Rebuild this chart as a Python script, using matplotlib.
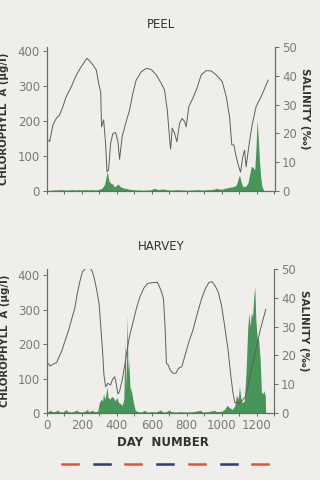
import matplotlib
matplotlib.use("Agg")
import matplotlib.pyplot as plt
from matplotlib.lines import Line2D

# Colours
BG = "#efeeea"
GREEN = "#479558"
LINE = "#5e5e5e"
AXIS = "#6a6a6a"
TICKTXT = "#7a7a7a"
LABEL = "#333333"

# ---- PEEL ----
peel_sal_day = [10, 15, 34, 53, 72, 91, 110, 139, 168, 196, 215, 229, 244, 263, 282, 297, 307,
                312, 324, 335, 343, 352, 364, 377, 392, 406, 415, 430, 450, 472, 491, 510, 539,
                568, 596, 625, 653, 672, 688, 701, 707, 716, 730, 743, 758, 773, 787, 796, 811,
                834, 857, 882, 910, 939, 968, 1002, 1025, 1044, 1057, 1069, 1082, 1097, 1107,
                1120, 1130, 1139, 1154, 1173, 1196, 1225, 1265]
peel_sal = [17.7, 17.1, 22.9, 25.2, 26.4, 29.3, 32.8, 36.2, 40.3, 43.2, 44.9, 46.1, 45.1, 43.8,
            42.0, 36.8, 34.5, 22.3, 24.7, 16.6, 6.7, 7.3, 16.6, 20.0, 20.3, 17.1, 11.0, 18.9,
            23.5, 28.1, 33.9, 38.5, 41.4, 42.6, 42.2, 40.3, 37.4, 35.1, 28.1, 18.3, 14.5, 21.8,
            20.0, 17.1, 23.5, 25.2, 24.1, 22.3, 29.3, 32.2, 35.6, 40.3, 41.8, 41.7, 40.3, 38.0,
            32.8, 25.8, 16.0, 16.0, 11.9, 8.4, 6.5, 11.9, 14.2, 8.4, 15.4, 22.9, 29.3, 32.8, 38.5]

peel_chl_day = [0, 20, 40, 60, 80, 100, 120, 140, 160, 180, 200, 220, 240, 260, 280, 300, 315,
                330, 340, 345, 350, 355, 365, 375, 385, 395, 405, 412, 420, 430, 440, 455, 470,
                490, 510, 530, 550, 570, 590, 605, 615, 625, 640, 660, 680, 700, 720, 740, 760,
                780, 800, 820, 840, 860, 880, 900, 920, 940, 960, 970, 980, 1000, 1020, 1040,
                1060, 1075, 1085, 1095, 1101, 1108, 1118, 1130, 1140, 1150, 1160, 1168, 1178,
                1188, 1195, 1202, 1208, 1215, 1222, 1230, 1238, 1245]
peel_chl = [2, 2, 3, 3, 4, 3, 3, 4, 3, 4, 3, 4, 3, 4, 3, 5, 8, 20, 45, 55, 40, 28, 22, 20, 12,
            15, 20, 17, 12, 10, 8, 7, 5, 4, 3, 3, 2, 3, 3, 6, 8, 5, 4, 6, 4, 3, 3, 4, 3, 3, 2,
            3, 3, 4, 3, 3, 4, 4, 6, 8, 6, 5, 8, 10, 12, 14, 20, 38, 46, 30, 14, 12, 16, 24, 50,
            70, 68, 60, 120, 205, 150, 90, 40, 12, 3, 0]

# ---- HARVEY ----
harv_sal_day = [7, 17, 36, 55, 70, 83, 102, 121, 140, 159, 174, 188, 203, 222, 245, 260, 273,
                288, 298, 311, 320, 326, 336, 349, 364, 374, 387, 396, 406, 415, 431, 444, 457,
                472, 491, 510, 529, 554, 576, 605, 633, 652, 667, 677, 684, 694, 705, 722, 738,
                753, 772, 791, 813, 836, 861, 886, 908, 927, 946, 965, 980, 999, 1018, 1037,
                1051, 1064, 1075, 1098, 1121, 1136, 1155, 1174, 1196, 1221, 1253]
harv_sal = [17.2, 16.3, 17.0, 17.5, 19.6, 21.3, 24.8, 28.2, 32.3, 36.3, 41.6, 45.6, 49.1, 50.2,
            50.6, 49.1, 46.2, 41.6, 38.0, 27.7, 19.6, 13.2, 9.1, 10.3, 9.7, 11.5, 12.6, 10.3,
            6.6, 7.4, 11.5, 16.1, 21.3, 26.5, 31.1, 35.8, 39.8, 43.3, 45.0, 45.3, 45.3, 42.7,
            39.8, 28.8, 17.2, 16.7, 14.9, 13.8, 13.8, 15.5, 16.1, 20.1, 24.8, 28.8, 34.6, 39.8,
            43.3, 45.3, 45.6, 43.9, 42.1, 37.5, 30.0, 21.9, 13.8, 7.4, 3.7, 3.4, 4.5, 5.7, 10.3,
            16.1, 21.9, 28.8, 36.0]

harv_chl_day = [0, 10, 20, 30, 50, 60, 70, 90, 110, 120, 140, 160, 170, 180, 200, 220, 230,
                240, 260, 270, 290, 300, 310, 318, 324, 330, 336, 343, 350, 360, 370, 380, 390,
                400, 410, 420, 430, 440, 447, 452, 459, 464, 468, 475, 485, 495, 505, 520, 540,
                560, 570, 600, 620, 640, 650, 660, 680, 700, 710, 740, 760, 800, 840, 880, 890,
                920, 960, 970, 1000, 1020, 1030, 1040, 1060, 1075, 1085, 1095, 1102, 1110, 1117,
                1130, 1140, 1150, 1157, 1163, 1170, 1177, 1183, 1190, 1196, 1203, 1212, 1221,
                1228, 1235, 1242, 1250, 1252]
harv_chl = [3, 5, 8, 4, 5, 9, 4, 3, 10, 4, 3, 6, 9, 4, 3, 6, 10, 4, 8, 4, 5, 30, 40, 35, 57,
            40, 50, 76, 45, 40, 48, 45, 35, 45, 30, 28, 22, 40, 212, 70, 284, 120, 154, 75, 60,
            30, 8, 4, 3, 8, 3, 4, 3, 6, 9, 4, 3, 9, 4, 3, 4, 3, 4, 8, 3, 4, 8, 4, 5, 12, 22, 18,
            10, 20, 52, 40, 76, 45, 30, 35, 120, 250, 290, 250, 290, 280, 330, 367, 270, 220,
            212, 154, 60, 55, 65, 50, 0]

dash_colors = ["#e8503a", "#2b3a78", "#e8503a", "#2b3a78", "#e8503a", "#2b3a78", "#e8503a"]

W, H = 320, 480
fig = plt.figure(figsize=(3.2, 4.8), dpi=100, facecolor=BG)
plt.rcParams['font.family'] = ['DejaVu Sans']


def panel(rect, xmax, ymax, chl_day, chl, sal_day, sal, title, title_y, xlabels):
    ax = fig.add_axes(rect)
    ax.set_facecolor("none")
    ax.fill_between(chl_day, chl, 0, color=GREEN, lw=0)
    ax.set_xlim(0, xmax)
    ax.set_ylim(0, ymax)
    ax.set_yticks([0, 100, 200, 300, 400])
    ax.set_xticks(range(0, 1301, 100))
    if xlabels:
        ax.set_xticklabels([str(d) if d % 200 == 0 else "" for d in range(0, 1301, 100)])
    else:
        ax.set_xticklabels([])
    ax2 = ax.twinx()
    ax2.plot(sal_day, sal, color=LINE, lw=0.7)
    ax2.set_ylim(0, 50)
    ax2.set_yticks([0, 10, 20, 30, 40, 50])
    for a in (ax, ax2):
        a.spines['top'].set_visible(False)
        for s in ('left', 'right', 'bottom'):
            a.spines[s].set_color(AXIS)
            a.spines[s].set_linewidth(0.8)
        a.tick_params(colors=AXIS, labelcolor=TICKTXT, labelsize=8.5, length=3, width=0.7, pad=2)
    ax.tick_params(axis='x', length=2)
    ax.set_ylabel("CHLOROPHYLL  A (µg/l)", fontsize=7.3, color=LABEL, fontweight='bold')
    ax.yaxis.set_label_coords(-0.165, 0.5)
    ax2.set_ylabel("SALINITY (‰)", fontsize=7.5, color=LABEL, fontweight='bold', rotation=270)
    ax2.yaxis.set_label_coords(1.155, 0.57)
    fig.text(0.503, title_y, title, ha='center', va='center', fontsize=8.5, color=LABEL)
    return ax


panel([47 / W, 1 - 191 / H, 228 / W, 144 / H], 1304, 412,
      peel_chl_day, peel_chl, peel_sal_day, peel_sal, "PEEL", 1 - 24 / H, False)
panel([47 / W, 1 - 413 / H, 227 / W, 144 / H], 1290, 418,
      harv_chl_day, harv_chl, harv_sal_day, harv_sal, "HARVEY", 1 - 247 / H, True)

fig.text(163 / W, 1 - 443 / H, "DAY  NUMBER", ha='center', va='center', fontsize=8.5,
         color=LABEL, fontweight='bold')

# decorative colour dashes under the chart
for i, c in enumerate(dash_colors):
    x0 = (62 + i * 31.7) / W
    fig.add_artist(Line2D([x0, x0 + 16 / W], [1 - 464 / H] * 2, color=c, lw=1.8,
                          transform=fig.transFigure))

fig.savefig("out.png", dpi=100, facecolor=BG)
